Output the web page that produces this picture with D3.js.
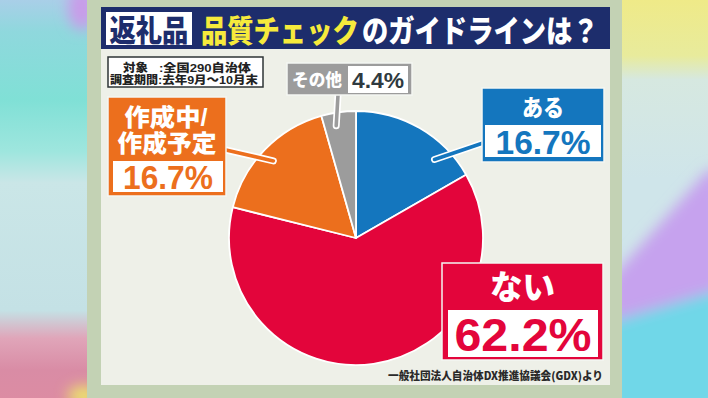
<!DOCTYPE html>
<html lang="ja">
<head>
<meta charset="utf-8">
<script src="https://cdn.jsdelivr.net/npm/d3@7"></script>
<style>
  body { margin: 0; background: #ffffff; }
  svg { display: block; }
  text { font-family: "Noto Sans CJK JP", "Noto Sans", sans-serif; font-weight: 900; }
  text.num { font-family: "Liberation Sans", Arial, sans-serif; font-weight: 700; }
  text.tight { font-family: "Liberation Sans", "Noto Sans CJK JP", sans-serif; font-weight: 900; }
</style>
</head>
<body>
<div id="chart"></div>
<script>
// data
const categories = ["ある", "ない", "作成中/作成予定", "その他"];
const values = [16.7, 62.2, 16.7, 4.4];
const colors = ["#1476be", "#e3053b", "#ec6f1d", "#9c9c9c"];
const titleTag = "返礼品";
const titleYellow = "品質チェック";
const titleWhite = "のガイドラインは？";
const noteLabels = ["対象", "調査期間"];
const noteValues = [":全国290自治体", ":去年9月～10月末"];
const source = "一般社団法人自治体DX推進協議会(GDX)より";

const width = 708, height = 398;
const fmt = d => d3.format(".1f")(d) + "%";

const svg = d3.select("#chart")
  .append("svg")
  .attr("width", width)
  .attr("height", height);

const defs = svg.append("defs");
defs.append("filter").attr("id", "blur")
  .attr("x", "-50%").attr("y", "-50%").attr("width", "200%").attr("height", "200%")
  .append("feGaussianBlur").attr("stdDeviation", 7);

// left gradient strip
const gl = defs.append("linearGradient").attr("id", "gl")
  .attr("x1", 0).attr("y1", 0).attr("x2", 0).attr("y2", 1);
[[0, "#a9cfe8"], [0.08, "#8fd8dd"], [0.25, "#80e0d6"], [0.38, "#9ee6de"], [0.46, "#cae6e7"],
 [0.78, "#c4e1e5"], [0.85, "#e0a5b9"], [0.93, "#d98ca5"], [1, "#dc8ca3"]]
  .forEach(s => gl.append("stop").attr("offset", s[0]).attr("stop-color", s[1]));

// right gradient strip
const gr = defs.append("linearGradient").attr("id", "gr")
  .attr("x1", 0).attr("y1", 0).attr("x2", 0).attr("y2", 1);
[[0, "#efea88"], [0.14, "#e8eb9c"], [0.2, "#d6e8e0"], [0.45, "#cfe5ea"], [1, "#cfe5ea"]]
  .forEach(s => gr.append("stop").attr("offset", s[0]).attr("stop-color", s[1]));

svg.append("rect").attr("x", 0).attr("y", 0).attr("width", 90).attr("height", height).attr("fill", "url(#gl)");
svg.append("rect").attr("x", 618).attr("y", 0).attr("width", 90).attr("height", height).attr("fill", "url(#gr)");

const blobs = svg.append("g").attr("filter", "url(#blur)");
blobs.append("ellipse").attr("cx", 82).attr("cy", 8).attr("rx", 14).attr("ry", 22).attr("fill", "#c99be9");
blobs.append("ellipse").attr("cx", 84).attr("cy", 396).attr("rx", 16).attr("ry", 10).attr("fill", "#ece46c");
blobs.append("polygon")
  .attr("points", "610,280 708,170 720,170 720,290 610,322")
  .attr("fill", "#c6a2ee");
blobs.append("polygon")
  .attr("points", "610,322 720,290 720,410 610,410")
  .attr("fill", "#70d7e8");

// panel
svg.append("rect").attr("x", 87).attr("y", 0).attr("width", 535).attr("height", height).attr("fill", "#c3d2b4");
svg.append("rect").attr("x", 101).attr("y", 46).attr("width", 509).attr("height", 339).attr("fill", "#eef0e8");

// title bar (glyphs stretched vertically, narrow TV-style lettering)
svg.append("rect").attr("x", 101).attr("y", 7).attr("width", 509).attr("height", 42).attr("fill", "#1d2d6c");
svg.append("rect").attr("x", 106).attr("y", 12).attr("width", 86).attr("height", 33).attr("fill", "#ffffff");
svg.append("text").attr("transform", "translate(109.5,40.5) scale(1,1.14)").attr("font-size", 26.3)
  .attr("fill", "#1d2d6c").text(titleTag);
svg.append("text").attr("transform", "translate(201,41.5) scale(1,1.18)").attr("font-size", 26.3)
  .attr("fill", "#f6ea3c").text(titleYellow);
svg.append("text").attr("transform", "translate(362,41.5) scale(1,1.18)").attr("font-size", 26.3)
  .attr("fill", "#ffffff").text(titleWhite);

// note box
svg.append("rect").attr("x", 108).attr("y", 57).attr("width", 155).attr("height", 30)
  .attr("fill", "#ffffff").attr("stroke", "#2e3436").attr("stroke-width", 1.5);
const noteRows = [
  { lx: 123, lw: 25, vx: 159, vw: 92, y: 71.5 },
  { lx: 110, lw: 48, vx: 158, vw: 100, y: 84 }
];
noteRows.forEach((r, i) => {
  svg.append("text").attr("class", "tight").attr("x", r.lx).attr("y", r.y).attr("font-size", 11)
    .attr("textLength", r.lw).attr("lengthAdjust", "spacingAndGlyphs")
    .attr("fill", "#222").text(noteLabels[i]);
  svg.append("text").attr("class", "tight").attr("x", r.vx).attr("y", r.y).attr("font-size", 11)
    .attr("textLength", r.vw).attr("lengthAdjust", "spacingAndGlyphs")
    .attr("fill", "#222").text(noteValues[i]);
});

// pie
const cx = 356, cy = 238, radius = 127;
const pie = d3.pie().sort(null).value(d => d);
const arc = d3.arc().innerRadius(0).outerRadius(radius);
const arcs = pie(values);

const g = svg.append("g").attr("transform", `translate(${cx},${cy})`);
g.selectAll("path")
  .data(arcs)
  .join("path")
  .attr("d", arc)
  .attr("fill", (d, i) => colors[i])
  .attr("stroke", "#ffffff")
  .attr("stroke-width", 1.8)
  .attr("stroke-linejoin", "round");

// label layout (annotation boxes)
const labels = [
  { box: [482, 88, 122, 74], head: [{ t: "ある", y: 116, fs: 23, w: 42 }],
    inner: [485, 125, 116, 32], vy: 153.5, vfs: 33, vw: 95,
    from: [483, 143], ang: 45, r: 111 },
  { box: [442, 263, 161, 97], head: [{ t: "ない", y: 298.5, fs: 33, w: 65 }],
    inner: [448, 310, 150, 47], vy: 350.5, vfs: 46, vw: 137,
    from: null },
  { box: [108, 97, 118, 99], head: [{ t: "作成中/", y: 126, fs: 24, w: 83, dx: -1, tight: true }, { t: "作成予定", y: 152, fs: 24, w: 99, tight: true }],
    inner: [113, 161, 110, 31], vy: 189, vfs: 33, vw: 90,
    from: [226, 150], ang: 313, r: 113 },
  { box: [287, 63, 125, 32], head: [{ t: "その他", y: 85.5, fs: 17, w: 50, cx: 317 }],
    inner: [348, 66, 60, 27], vy: 88, vfs: 22, vw: 52, vcx: 378, vcolor: "#2f3a40",
    from: [338, 95], ang: 350, r: 114 }
];

// leader lines
labels.forEach((L, i) => {
  if (!L.from) return;
  const a = L.ang * Math.PI / 180;
  const x2 = cx + L.r * Math.sin(a), y2 = cy - L.r * Math.cos(a);
  [["#ffffff", 7], [colors[i], 3.6]].forEach(s => {
    svg.append("line")
      .attr("x1", L.from[0]).attr("y1", L.from[1])
      .attr("x2", x2).attr("y2", y2)
      .attr("stroke", s[0]).attr("stroke-width", s[1])
      .attr("stroke-linecap", "round");
  });
});

// label boxes
labels.forEach((L, i) => {
  const [bx, by, bw, bh] = L.box;
  svg.append("rect").attr("x", bx).attr("y", by).attr("width", bw).attr("height", bh)
    .attr("fill", colors[i]).attr("stroke", "#f4f6f2").attr("stroke-width", 1.5);
  const [ix, iy, iw, ih] = L.inner;
  svg.append("rect").attr("x", ix).attr("y", iy).attr("width", iw).attr("height", ih)
    .attr("fill", "#ffffff");
  L.head.forEach(h => {
    const hx = (h.cx || bx + bw / 2) + (h.dx || 0);
    svg.append("text").attr("class", h.tight ? "tight" : null)
      .attr("x", hx - h.w / 2).attr("y", h.y).attr("font-size", h.fs)
      .attr("textLength", h.w).attr("lengthAdjust", "spacingAndGlyphs")
      .attr("fill", "#ffffff").text(h.t);
  });
  const vx = L.vcx || ix + iw / 2;
  svg.append("text").attr("class", "num")
    .attr("x", vx - L.vw / 2).attr("y", L.vy).attr("font-size", L.vfs)
    .attr("textLength", L.vw).attr("lengthAdjust", "spacingAndGlyphs")
    .attr("fill", L.vcolor || colors[i]).text(fmt(values[i]));
});

// source
svg.append("text").attr("x", 388).attr("y", 380).attr("font-size", 11)
  .attr("textLength", 215).attr("lengthAdjust", "spacingAndGlyphs")
  .attr("fill", "#2a2a2a").text(source);
</script>
</body>
</html>
